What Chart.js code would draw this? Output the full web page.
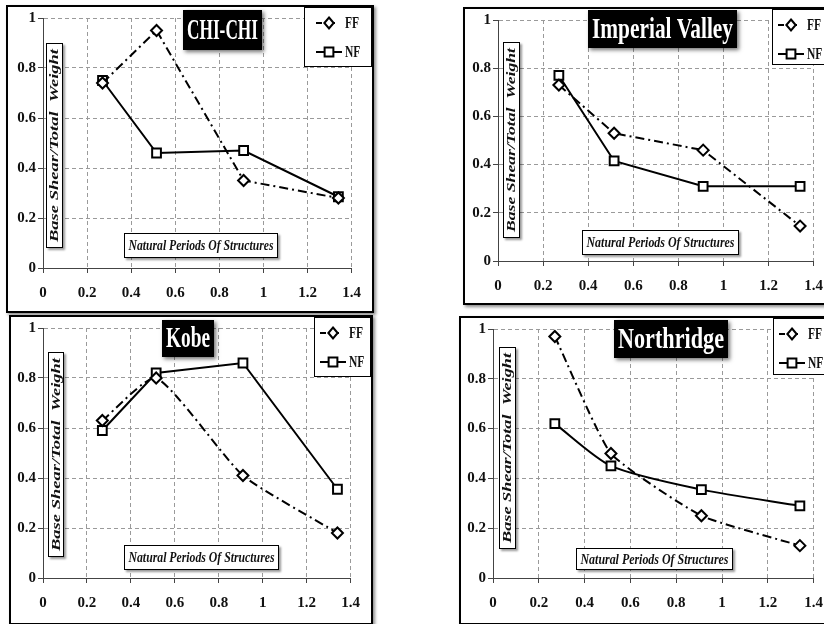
<!DOCTYPE html>
<html>
<head>
<meta charset="utf-8">
<script src="https://cdn.jsdelivr.net/npm/chart.js@4.4.1/dist/chart.umd.min.js"></script>
<style>
  html, body { margin: 0; padding: 0; background: #fff; }
  body { width: 824px; height: 624px; overflow: hidden; position: relative; }
  .panel { position: absolute; border: 2px solid #000; background: #fff; box-sizing: border-box;
           box-shadow: 2px 2px 3px rgba(0,0,0,0.45); }
  .panel canvas { position: absolute; left: 0; top: 0; }
</style>
</head>
<body>
<div class="panel" id="p1"><canvas id="c1"></canvas></div>
<div class="panel" id="p2"><canvas id="c2"></canvas></div>
<div class="panel" id="p3"><canvas id="c3"></canvas></div>
<div class="panel" id="p4"><canvas id="c4"></canvas></div>
<script>
// natural periods (s) of the four structures
const periods = [0.27, 0.515, 0.91, 1.34];
const xTicks = [0, 0.2, 0.4, 0.6, 0.8, 1, 1.2, 1.4];
const yTicks = [0, 0.2, 0.4, 0.6, 0.8, 1];
const seriesNames = ['FF', 'NF'];

// base shear / total weight
const chiChiFF = [0.74, 0.95, 0.35, 0.28];
const chiChiNF = [0.75, 0.46, 0.47, 0.285];
const imperialFF = [0.73, 0.53, 0.46, 0.145];
const imperialNF = [0.77, 0.415, 0.31, 0.31];
const kobeFF = [0.63, 0.80, 0.41, 0.18];
const kobeNF = [0.59, 0.82, 0.86, 0.355];
const northridgeFF = [0.97, 0.50, 0.25, 0.13];
const northridgeNF = [0.62, 0.45, 0.355, 0.29];

const yTitle = 'Base Shear/Total  Weight';
const xTitle = 'Natural Periods Of Structures';

// page-pixel layout of each panel
const panels = [
  { canvas: 'c1', wrap: 'p1', title: 'CHI-CHI', ff: chiChiFF, nf: chiChiNF, tension: [0, 0],
    frame: { x: 6, y: 5, w: 368, h: 308 }, plot: { l: 43, r: 358, t: 16, b: 268 },
    titleBox: { x: 183, y: 10, w: 79, h: 40 }, legend: { x: 304, y: 7, w: 68, h: 60, inset: 12 },
    yBox: { x: 46, y: 43, w: 17, h: 205 }, xBox: { x: 124, y: 233, w: 154, h: 25 } },
  { canvas: 'c2', wrap: 'p2', title: 'Imperial Valley', ff: imperialFF, nf: imperialNF, tension: [0, 0],
    frame: { x: 463, y: 7, w: 373, h: 298 }, plot: { l: 498, r: 818, t: 16, b: 261 },
    titleBox: { x: 588, y: 10, w: 149, h: 38 }, legend: { x: 772, y: 9, w: 70, h: 56, inset: 6 },
    yBox: { x: 503, y: 42, w: 17, h: 196 }, xBox: { x: 582, y: 230, w: 157, h: 25 } },
  { canvas: 'c3', wrap: 'p3', title: 'Kobe', ff: kobeFF, nf: kobeNF, tension: [0.18, 0],
    frame: { x: 9, y: 315, w: 364, h: 310 }, plot: { l: 43, r: 358, t: 326, b: 578 },
    titleBox: { x: 162, y: 320, w: 52, h: 37 }, legend: { x: 314, y: 317, w: 57, h: 60, inset: 6 },
    yBox: { x: 48, y: 352, w: 16, h: 205 }, xBox: { x: 124, y: 545, w: 155, h: 25 } },
  { canvas: 'c4', wrap: 'p4', title: 'Northridge', ff: northridgeFF, nf: northridgeNF, tension: [0.15, 0.25],
    frame: { x: 459, y: 316, w: 377, h: 309 }, plot: { l: 493, r: 818, t: 326, b: 578 },
    titleBox: { x: 614, y: 320, w: 114, h: 38 }, legend: { x: 773, y: 318, w: 70, h: 57, inset: 6 },
    yBox: { x: 499, y: 347, w: 17, h: 202 }, xBox: { x: 576, y: 548, w: 157, h: 22 } }
];
const byCanvas = {};
panels.forEach(p => { byCanvas[p.canvas] = p; });

const FF_DASH = [9, 4, 2, 4];

function drawMarker(ctx, style, x, y, r) {
  ctx.save();
  ctx.setLineDash([]);
  ctx.lineWidth = 2;
  ctx.strokeStyle = '#000';
  ctx.fillStyle = '#fff';
  ctx.beginPath();
  if (style === 'rectRot') {
    ctx.moveTo(x, y - r); ctx.lineTo(x + r * 0.85, y); ctx.lineTo(x, y + r); ctx.lineTo(x - r * 0.85, y);
    ctx.closePath();
  } else {
    const s = Math.SQRT1_2 * r;
    ctx.rect(x - s, y - s, 2 * s, 2 * s);
  }
  ctx.fill();
  ctx.stroke();
  ctx.restore();
}

function fitText(ctx, text, cx, cy, maxW, rotate) {
  const w = ctx.measureText(text).width;
  ctx.save();
  ctx.translate(cx, cy);
  if (rotate) ctx.rotate(-Math.PI / 2);
  ctx.scale(maxW / w, 1);
  ctx.textAlign = 'center';
  ctx.textBaseline = 'middle';
  ctx.fillText(text, 0, 0);
  ctx.restore();
}

function labelBox(ctx, b, ox, oy) {
  ctx.save();
  ctx.shadowColor = 'rgba(0,0,0,0.4)';
  ctx.shadowBlur = 2;
  ctx.shadowOffsetX = 1.5;
  ctx.shadowOffsetY = 1.5;
  ctx.fillStyle = '#fff';
  ctx.fillRect(b.x - ox, b.y - oy, b.w, b.h);
  ctx.restore();
  ctx.lineWidth = 1;
  ctx.strokeStyle = '#000';
  ctx.strokeRect(b.x - ox + 0.5, b.y - oy + 0.5, b.w - 1, b.h - 1);
}

const panelDecor = {
  id: 'panelDecor',
  beforeDatasetsDraw(chart) {
    const p = byCanvas[chart.canvas.id];
    const ctx = chart.ctx;
    const ox = p.frame.x + 2, oy = p.frame.y + 2;
    ctx.save();
    labelBox(ctx, p.yBox, ox, oy);
    ctx.fillStyle = '#111';
    ctx.font = 'italic bold 13px "Liberation Serif"';
    fitText(ctx, yTitle, p.yBox.x - ox + p.yBox.w / 2 + 0.5, p.yBox.y - oy + p.yBox.h / 2, p.yBox.h - 12, true);
    labelBox(ctx, p.xBox, ox, oy);
    ctx.fillStyle = '#111';
    ctx.font = 'italic bold 15px "Liberation Serif"';
    fitText(ctx, xTitle, p.xBox.x - ox + p.xBox.w / 2, p.xBox.y - oy + p.xBox.h / 2 + 1, p.xBox.w - 9, false);
    ctx.restore();
  },
  afterDraw(chart) {
    const p = byCanvas[chart.canvas.id];
    const ctx = chart.ctx;
    const ox = p.frame.x + 2, oy = p.frame.y + 2;
    ctx.save();
    // title plate
    const t = p.titleBox;
    ctx.save();
    ctx.shadowColor = 'rgba(0,0,0,0.55)';
    ctx.shadowBlur = 4;
    ctx.shadowOffsetX = 2;
    ctx.shadowOffsetY = 2;
    ctx.fillStyle = '#000';
    ctx.fillRect(t.x - ox, t.y - oy, t.w, t.h);
    ctx.restore();
    ctx.fillStyle = '#fff';
    ctx.font = 'bold 30px "Liberation Serif"';
    fitText(ctx, p.title, t.x - ox + t.w / 2, t.y - oy + t.h / 2 + 1, t.w - 8, false);

    // legend
    const L = p.legend;
    const lx = L.x - ox, ly = L.y - oy;
    ctx.fillStyle = '#fff';
    ctx.fillRect(lx, ly, L.w, L.h);
    ctx.lineWidth = 1;
    ctx.strokeStyle = '#000';
    ctx.strokeRect(lx + 0.5, ly + 0.5, L.w - 1, L.h - 1);
    chart.data.datasets.forEach((ds, i) => {
      const y = ly + (i === 0 ? 16 : 45);
      const x0 = lx + L.inset, x1 = x0 + 26;
      ctx.save();
      ctx.lineWidth = 2;
      ctx.strokeStyle = '#000';
      ctx.setLineDash(i === 0 ? [6, 7] : []);
      ctx.beginPath();
      ctx.moveTo(x0, y); ctx.lineTo(x1, y);
      ctx.stroke();
      ctx.restore();
      drawMarker(ctx, ds.pointStyle, (x0 + x1) / 2, y, ds.pointRadius);
      ctx.fillStyle = '#111';
      ctx.font = 'bold 16px "Liberation Serif"';
      ctx.textAlign = 'left';
      ctx.textBaseline = 'middle';
      ctx.save();
      ctx.translate(x1 + 3, y + 1);
      ctx.scale(0.72, 1);
      ctx.fillText(ds.label, 0, 0);
      ctx.restore();
    });
    ctx.restore();
  }
};

const tickFont = { family: '"Liberation Serif"', size: 15, weight: 'bold' };

panels.forEach(p => {
  const wrap = document.getElementById(p.wrap);
  wrap.style.left = p.frame.x + 'px';
  wrap.style.top = p.frame.y + 'px';
  wrap.style.width = p.frame.w + 'px';
  wrap.style.height = p.frame.h + 'px';
  const ox = p.frame.x + 2, oy = p.frame.y + 2;
  const cw = p.frame.w - 4, ch = p.frame.h - 4;
  const canvas = document.getElementById(p.canvas);
  canvas.width = cw; canvas.height = ch;
  canvas.style.width = cw + 'px'; canvas.style.height = ch + 'px';

  const plotLeft = p.plot.l - ox, plotRight = p.plot.r - ox;
  const plotTop = p.plot.t - oy, plotBottom = p.plot.b - oy;

  new Chart(canvas, {
    type: 'line',
    data: {
      datasets: [
        { label: seriesNames[0], data: periods.map((x, i) => ({ x: x, y: p.ff[i] })),
          borderColor: '#000', borderWidth: 2, borderDash: FF_DASH, tension: p.tension[0],
          pointStyle: 'rectRot', pointRadius: 5.5, pointBorderWidth: 2,
          pointBackgroundColor: '#fff', pointBorderColor: '#000', fill: false },
        { label: seriesNames[1], data: periods.map((x, i) => ({ x: x, y: p.nf[i] })),
          borderColor: '#000', borderWidth: 2, tension: p.tension[1],
          pointStyle: 'rect', pointRadius: 6.2, pointBorderWidth: 2,
          pointBackgroundColor: '#fff', pointBorderColor: '#000', fill: false }
      ]
    },
    options: {
      responsive: false,
      animation: false,
      events: [],
      layout: { padding: { left: 0, top: plotTop, right: cw - plotRight, bottom: 0 } },
      plugins: { legend: { display: false }, tooltip: { enabled: false } },
      scales: {
        x: {
          type: 'linear', min: 0, max: 1.4,
          afterBuildTicks: s => { s.ticks = xTicks.map(v => ({ value: v })); },
          afterFit: s => { s.height = ch - plotBottom; },
          grid: { color: '#9a9a9a', lineWidth: 1, tickLength: 5, tickColor: '#444' },
          border: { color: '#444', width: 1, dash: [4, 3] },
          ticks: { font: tickFont, color: '#111', padding: 11, maxRotation: 0, callback: v => String(v) }
        },
        y: {
          min: 0, max: 1,
          afterBuildTicks: s => { s.ticks = yTicks.map(v => ({ value: v })); },
          afterFit: s => { s.width = plotLeft; },
          grid: { color: '#9a9a9a', lineWidth: 1, tickLength: 5, tickColor: '#444' },
          border: { color: '#444', width: 1, dash: [4, 3] },
          ticks: { font: tickFont, color: '#111', padding: 2, callback: v => String(v) }
        }
      }
    },
    plugins: [panelDecor]
  });
});
</script>
</body>
</html>
